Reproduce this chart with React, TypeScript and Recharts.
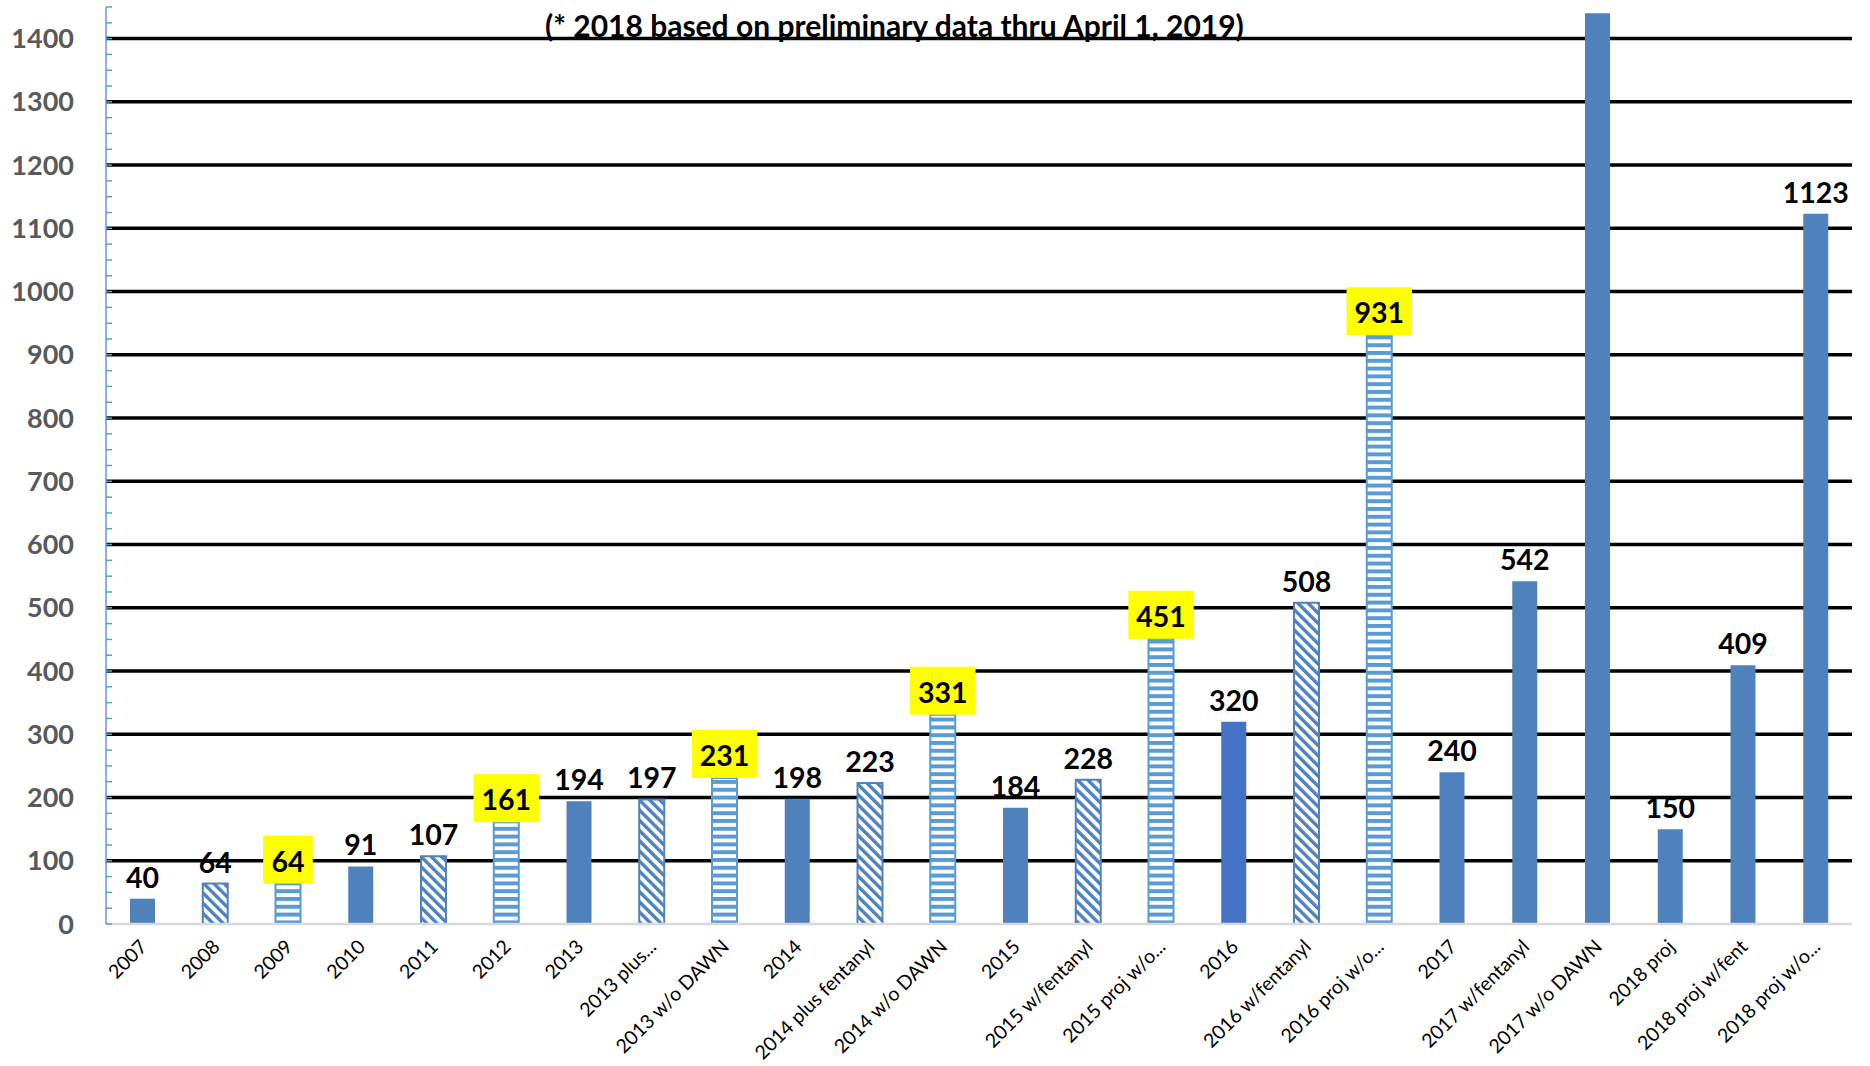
import { BarChart, Bar, XAxis, YAxis, CartesianGrid, Cell, LabelList } from 'recharts';

const categories = [
  '2007', '2008', '2009', '2010', '2011', '2012', '2013', '2013 plus...', '2013 w/o DAWN',
  '2014', '2014 plus fentanyl', '2014 w/o DAWN', '2015', '2015 w/fentanyl', '2015 proj w/o...',
  '2016', '2016 w/fentanyl', '2016 proj w/o...', '2017', '2017  w/fentanyl', '2017 w/o DAWN',
  '2018 proj', '2018 proj w/fent', '2018 proj w/o...',
];
const values = [40, 64, 64, 91, 107, 161, 194, 197, 231, 198, 223, 331, 184, 228, 451, 320, 508, 931, 240, 542, 1440, 150, 409, 1123];
// solid / diag (hatched) / horiz (striped) / dark
const barKinds = [
  'solid', 'diag', 'horiz', 'solid', 'diag', 'horiz', 'solid', 'diag', 'horiz',
  'solid', 'diag', 'horiz', 'solid', 'diag', 'horiz',
  'dark', 'diag', 'horiz', 'solid', 'solid', 'solid',
  'solid', 'solid', 'solid',
];
const highlighted = ['2009', '2012', '2013 w/o DAWN', '2014 w/o DAWN', '2015 proj w/o...', '2016 proj w/o...'];
const noLabel = ['2017 w/o DAWN'];
const gridValues = [100, 200, 300, 400, 500, 600, 700, 800, 900, 1000, 1100, 1200, 1300, 1400];
const yMax = 1450;
const yTicks = Array.from({ length: yMax / 25 + 1 }, (_, i) => i * 25);
const subtitle = '(* 2018 based on preliminary data thru April 1, 2019)';

const data = categories.map((name, i) => ({ name, value: values[i], kind: barKinds[i] }));

const fillFor: Record<string, string> = {
  solid: '#4F81BD',
  dark: '#4472C4',
  diag: 'url(#diagHatch)',
  horiz: 'url(#horizStripe)',
};
const strokeFor: Record<string, string> = {
  solid: 'none',
  dark: 'none',
  diag: '#4F81BD',
  horiz: '#5B9BD5',
};

const FONT = 'Lato, "Open Sans", sans-serif';

function YTick(props: any) {
  const { x, y, payload } = props;
  const v = payload.value as number;
  return (
    <g>
      <line x1={x} x2={x + 6} y1={y} y2={y} stroke="#5B9BD5" strokeWidth={1.5} />
      {v % 100 === 0 && (
        <text x={x - 32} y={y} dy={9.5} textAnchor="end" fill="#595959" fontFamily={FONT} fontWeight={700} fontSize={27}>
          {v}
        </text>
      )}
    </g>
  );
}

function XTick(props: any) {
  const { x, y, payload } = props;
  const tx = x + 6;
  const ty = y + 24;
  return (
    <text x={tx} y={ty} textAnchor="end" transform={`rotate(-45 ${tx} ${ty})`} fill="#000" fontFamily={FONT} fontSize={19.5}>
      {payload.value}
    </text>
  );
}

function BarLabel(props: any) {
  const { x, y, width, value, index } = props;
  const name = categories[index];
  if (noLabel.includes(name)) return null;
  const cx = x + width / 2;
  const text = String(value);
  if (highlighted.includes(name)) {
    const base = y - 12;
    const w = text.length * 15.8 + 18;
    return (
      <g>
        <rect x={cx - w / 2} y={base + 12 - 48} width={w} height={48} fill="#FFFF00" />
        <text x={cx} y={base} textAnchor="middle" fill="#000" fontFamily={FONT} fontWeight={700} fontSize={28.5}>
          {text}
        </text>
      </g>
    );
  }
  return (
    <text x={cx} y={y - 11} textAnchor="middle" fill="#000" fontFamily={FONT} fontWeight={700} fontSize={28.5}>
      {text}
    </text>
  );
}

export default function App() {
  return (
    <div style={{ position: 'absolute', left: 0, top: 0, width: 1870, height: 1066, background: '#fff' }}>
      <BarChart width={1870} height={1066} data={data} margin={{ top: 7, right: 18, left: 0, bottom: 0 }} barCategoryGap={0}>
        <defs>
          <pattern id="diagHatch" patternUnits="userSpaceOnUse" width={7.2} height={7.2} patternTransform="rotate(-45)">
            <rect width={7.2} height={7.2} fill="#fff" />
            <rect width={3.4} height={7.2} fill="#4F81BD" />
          </pattern>
          <pattern id="horizStripe" patternUnits="userSpaceOnUse" width={8} height={7.8}>
            <rect width={8} height={7.8} fill="#fff" />
            <rect width={8} height={4} fill="#5B9BD5" />
          </pattern>
        </defs>
        <CartesianGrid vertical={false} horizontalValues={gridValues} stroke="#000" strokeWidth={3.5} />
        <XAxis
          dataKey="name"
          interval={0}
          height={142}
          tickSize={0}
          tickMargin={0}
          tickLine={false}
          axisLine={{ stroke: '#D9D9D9', strokeWidth: 2.5 }}
          tick={<XTick />}
        />
        <YAxis
          domain={[0, yMax]}
          ticks={yTicks}
          interval={0}
          width={106}
          tickSize={0}
          tickMargin={0}
          tickLine={false}
          axisLine={{ stroke: '#5B9BD5', strokeWidth: 1.5 }}
          tick={<YTick />}
          allowDataOverflow
        />
        <Bar dataKey="value" barSize={25} isAnimationActive={false}>
          {data.map((d) => (
            <Cell key={d.name} fill={fillFor[d.kind]} stroke={strokeFor[d.kind]} strokeWidth={2} />
          ))}
          <LabelList dataKey="value" content={<BarLabel />} />
        </Bar>
      </BarChart>
      <svg width={1870} height={60} style={{ position: 'absolute', left: 0, top: 0, pointerEvents: 'none' }}>
        <text x={545} y={37} fill="#000" fontFamily={FONT} fontWeight={700} fontSize={30}>
          {subtitle}
        </text>
      </svg>
    </div>
  );
}
